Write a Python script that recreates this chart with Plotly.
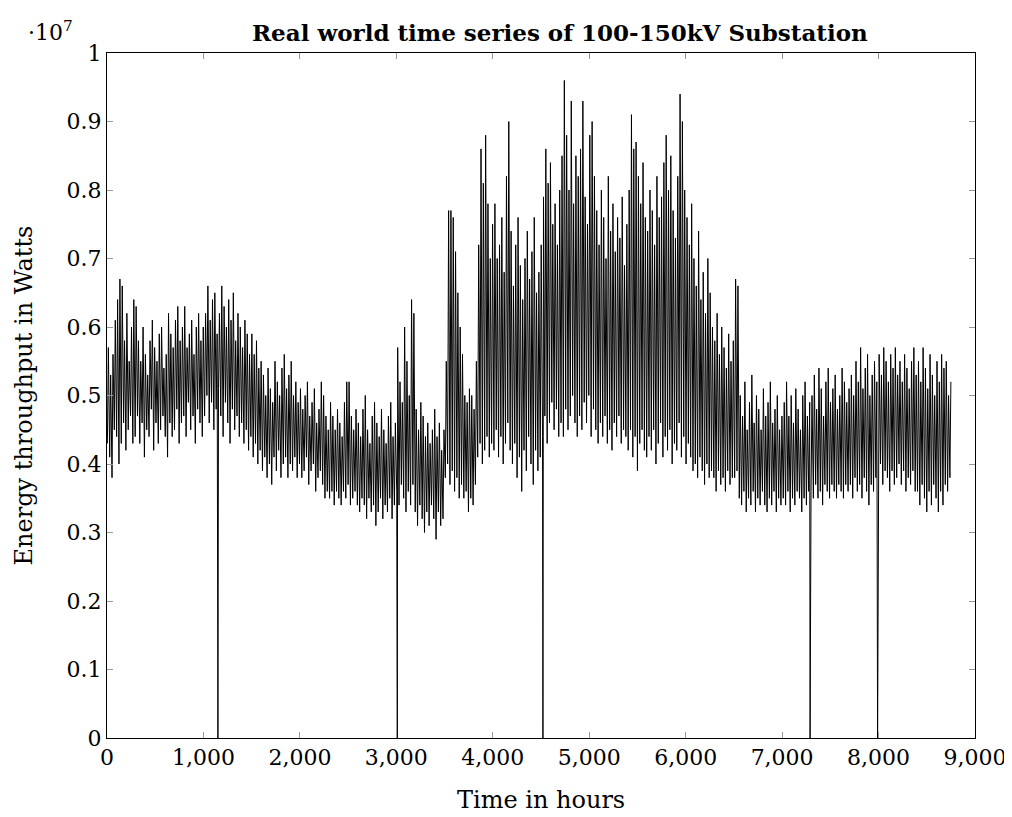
import plotly.graph_objects as go

# Daily readings of the substation energy throughput, in units of 10^7 W
# (one daily high and one nightly low per day, 365 days)
daily_peak = [
    0.57, 0.53, 0.56, 0.61,
    0.64, 0.67, 0.66, 0.58, 0.62, 0.55, 0.60, 0.64,
    0.63, 0.58, 0.55, 0.60, 0.56, 0.53, 0.58, 0.61, 0.57, 0.55, 0.59, 0.60, 0.54, 0.56, 0.62, 0.59, 0.57,
    0.61, 0.63, 0.58, 0.60, 0.63, 0.57, 0.59, 0.61, 0.56, 0.60, 0.62, 0.58, 0.60,
    0.62, 0.66, 0.61, 0.64, 0.65, 0.59, 0.62, 0.66, 0.63, 0.60, 0.64, 0.61, 0.65, 0.58, 0.62, 0.60, 0.57, 0.61, 0.59, 0.56,
    0.59, 0.56, 0.58, 0.54, 0.55,
    0.53, 0.50, 0.54, 0.51, 0.49, 0.55, 0.52, 0.50, 0.54, 0.56, 0.51, 0.53, 0.55, 0.50, 0.52, 0.49,
    0.51, 0.48, 0.50, 0.52, 0.47, 0.49, 0.51, 0.46, 0.48, 0.52, 0.50, 0.47, 0.45,
    0.49, 0.47, 0.45, 0.48, 0.46, 0.44, 0.49, 0.52, 0.52, 0.47, 0.45, 0.48,
    0.46, 0.44, 0.48, 0.50, 0.45, 0.43, 0.47, 0.49, 0.46, 0.44, 0.48, 0.45, 0.43, 0.47, 0.49, 0.44, 0.46,
    0.57, 0.52, 0.49, 0.60, 0.55, 0.50, 0.64, 0.62,
    0.48, 0.45, 0.49, 0.47, 0.44, 0.46, 0.43, 0.45, 0.48, 0.44, 0.46, 0.42, 0.45,
    0.55, 0.77, 0.77, 0.76,
    0.71, 0.65, 0.60, 0.56,
    0.50, 0.49, 0.51, 0.50, 0.48, 0.55,
    0.72, 0.86, 0.81, 0.88, 0.78, 0.70, 0.75,
    0.78, 0.70, 0.72, 0.76, 0.68, 0.82, 0.90, 0.74,
    0.66, 0.72, 0.76, 0.69, 0.64, 0.70, 0.74, 0.67, 0.71, 0.76, 0.65, 0.68, 0.72,
    0.79, 0.86, 0.81, 0.84, 0.75, 0.78, 0.72, 0.80,
    0.85, 0.96, 0.88, 0.80, 0.93, 0.78, 0.85, 0.82,
    0.86, 0.93, 0.79, 0.75, 0.88, 0.90, 0.82, 0.77,
    0.72, 0.80, 0.76, 0.70, 0.82, 0.74, 0.78, 0.71, 0.76, 0.73, 0.79, 0.69, 0.75,
    0.80, 0.91, 0.86, 0.87, 0.82, 0.78, 0.84, 0.76,
    0.74, 0.80, 0.77, 0.72, 0.82, 0.76, 0.79, 0.84, 0.88, 0.80, 0.85, 0.77, 0.73,
    0.82, 0.94, 0.90, 0.80, 0.76, 0.72, 0.78, 0.70,
    0.66, 0.74, 0.64, 0.68, 0.62, 0.70, 0.65, 0.60,
    0.58, 0.62, 0.56, 0.60, 0.57, 0.54, 0.59, 0.55, 0.58,
    0.67, 0.66,
    0.50, 0.47, 0.52, 0.45, 0.49, 0.53, 0.46, 0.50, 0.48, 0.45, 0.51, 0.47, 0.49, 0.52, 0.46, 0.48, 0.50, 0.45, 0.47,
    0.49, 0.52, 0.47, 0.50, 0.46, 0.51, 0.48, 0.45, 0.50, 0.52, 0.47, 0.49,
    0.50, 0.53, 0.48, 0.54, 0.51, 0.47, 0.52, 0.54, 0.49, 0.51, 0.53, 0.48, 0.50, 0.54, 0.52, 0.49, 0.51,
    0.53, 0.50, 0.55, 0.52, 0.57, 0.51, 0.54, 0.56, 0.50, 0.53, 0.55, 0.52,
    0.56, 0.53, 0.57, 0.55, 0.52, 0.56, 0.54, 0.57, 0.53, 0.55, 0.52, 0.56, 0.54, 0.51, 0.55, 0.57, 0.53,
    0.55, 0.52, 0.57, 0.54, 0.51, 0.56, 0.53, 0.50, 0.55, 0.52, 0.56, 0.54, 0.55, 0.50, 0.52,
]

daily_low = [
    0.43, 0.41, 0.38, 0.45,
    0.44, 0.40, 0.43, 0.46, 0.42, 0.45, 0.47, 0.43,
    0.44, 0.47, 0.43, 0.46, 0.41, 0.45, 0.44, 0.48, 0.42, 0.46, 0.43, 0.45, 0.47, 0.44, 0.41, 0.46, 0.44,
    0.45, 0.48, 0.43, 0.46, 0.47, 0.44, 0.49, 0.45, 0.47, 0.43, 0.48, 0.46, 0.44,
    0.47, 0.50, 0.46, 0.49, 0.45, 0.48, 0.51, 0.47, 0.44, 0.49, 0.46, 0.43, 0.48, 0.45, 0.47, 0.44, 0.46, 0.43, 0.45, 0.42,
    0.44, 0.41, 0.43, 0.40, 0.42,
    0.39, 0.41, 0.38, 0.40, 0.37, 0.41, 0.39, 0.42, 0.38, 0.40, 0.41, 0.38, 0.40, 0.39, 0.41, 0.38,
    0.40, 0.38, 0.39, 0.41, 0.37, 0.39, 0.40, 0.36, 0.38, 0.39, 0.37, 0.35, 0.36,
    0.35, 0.36, 0.34, 0.36, 0.35, 0.34, 0.36, 0.35, 0.37, 0.34, 0.35, 0.36,
    0.34, 0.33, 0.35, 0.34, 0.32, 0.35, 0.33, 0.34, 0.31, 0.33, 0.35, 0.32, 0.34, 0.33, 0.35, 0.32, 0.34,
    0.36, 0.34, 0.37, 0.35, 0.33, 0.36, 0.34, 0.37,
    0.33, 0.31, 0.34, 0.32, 0.30, 0.33, 0.31, 0.34, 0.32, 0.29, 0.33, 0.31, 0.32,
    0.38, 0.40, 0.37, 0.39,
    0.36, 0.38, 0.35, 0.37,
    0.35, 0.36, 0.33, 0.35, 0.34, 0.37,
    0.41, 0.43, 0.40, 0.42, 0.44, 0.41, 0.43,
    0.42, 0.45, 0.41, 0.44, 0.40, 0.43, 0.46, 0.42,
    0.40, 0.43, 0.38, 0.41, 0.36, 0.42, 0.39, 0.44, 0.40, 0.37, 0.42, 0.39, 0.41,
    0.44, 0.47, 0.43, 0.46, 0.49, 0.45, 0.48, 0.44,
    0.46, 0.44, 0.48, 0.45, 0.47, 0.50, 0.46, 0.44,
    0.47, 0.45, 0.49, 0.46, 0.50, 0.44, 0.48, 0.45,
    0.43, 0.46, 0.44, 0.47, 0.43, 0.45, 0.42, 0.46, 0.44, 0.47, 0.43, 0.45, 0.44,
    0.42, 0.45, 0.41, 0.44, 0.39, 0.43, 0.45, 0.42,
    0.41, 0.44, 0.42, 0.45, 0.40, 0.43, 0.46, 0.41, 0.44, 0.42, 0.45, 0.40, 0.43,
    0.42, 0.46, 0.41, 0.44, 0.40, 0.43, 0.41, 0.39,
    0.40, 0.38, 0.41, 0.39, 0.37, 0.40, 0.38, 0.39,
    0.38, 0.36, 0.39, 0.37, 0.38, 0.36, 0.39, 0.37, 0.38,
    0.38, 0.39,
    0.35, 0.34, 0.36, 0.33, 0.35, 0.34, 0.36, 0.33, 0.35, 0.34, 0.36, 0.34, 0.33, 0.35, 0.34, 0.36, 0.33, 0.35, 0.34,
    0.35, 0.34, 0.36, 0.33, 0.35, 0.34, 0.36, 0.35, 0.33, 0.35, 0.34, 0.36,
    0.36, 0.35, 0.37, 0.35, 0.36, 0.34, 0.37, 0.36, 0.35, 0.37, 0.36, 0.35, 0.37, 0.36, 0.35, 0.37, 0.36,
    0.37, 0.35, 0.38, 0.36, 0.37, 0.35, 0.38, 0.36, 0.34, 0.37, 0.36, 0.38,
    0.38, 0.40, 0.37, 0.39, 0.38, 0.36, 0.39, 0.37, 0.38, 0.40, 0.37, 0.39, 0.36, 0.38, 0.37, 0.39, 0.36,
    0.36, 0.34, 0.37, 0.35, 0.33, 0.36, 0.34, 0.37, 0.35, 0.33, 0.36, 0.34, 0.37, 0.36, 0.38,
]

# Hours at which the measurement dropped out (reading of zero)
outage_hours = [1150, 3010, 4520, 7290, 7990]
outage_values = [0.0, 0.0, 0.0, 0.0, 0.0]

low_hour_of_day = 4
peak_hour_of_day = 14

x_tick_vals = [0, 1000, 2000, 3000, 4000, 5000, 6000, 7000, 8000, 9000]
x_tick_text = ["0", "1,000", "2,000", "3,000", "4,000", "5,000", "6,000", "7,000", "8,000", "9,000"]
y_tick_vals = [0, 0.1, 0.2, 0.3, 0.4, 0.5, 0.6, 0.7, 0.8, 0.9, 1]
y_tick_text = ["0", "0.1", "0.2", "0.3", "0.4", "0.5", "0.6", "0.7", "0.8", "0.9", "1"]

# Assemble the time series (hour, value)
points = []
for d, (lo, hi) in enumerate(zip(daily_low, daily_peak)):
    points.append((24 * d + low_hour_of_day, lo))
    points.append((24 * d + peak_hour_of_day, hi))
for h, v in zip(outage_hours, outage_values):
    points.append((h, v))
points.sort(key=lambda p: p[0])
hours = [p[0] for p in points]
values = [p[1] for p in points]

FONT = "DejaVu Serif"
FS = 22

fig = go.Figure()
fig.add_trace(go.Scatter(
    x=hours, y=values, mode="lines",
    line=dict(color="black", width=1),
    showlegend=False, hoverinfo="skip",
))

axis_common = dict(
    showline=True, linecolor="black", linewidth=1, mirror="ticks",
    ticks="inside", ticklen=6, tickcolor="#999999", tickwidth=1,
    showgrid=False, zeroline=False, automargin=False,
    tickfont=dict(family=FONT, size=FS, color="black"),
)

fig.update_layout(
    width=1012, height=817,
    margin=dict(l=99, r=45, t=45, b=87, autoexpand=False),
    paper_bgcolor="white", plot_bgcolor="white",
    font=dict(family=FONT, color="black"),
    xaxis=dict(range=[0, 9000], tickmode="array",
               tickvals=x_tick_vals, ticktext=x_tick_text, **axis_common),
    yaxis=dict(range=[0, 1], tickmode="array",
               tickvals=y_tick_vals, ticktext=y_tick_text, **axis_common),
    annotations=[
        dict(text="<b>Real world time series of 100-150kV Substation</b>",
             xref="paper", yref="paper", x=0.5, y=1.0, xshift=19, yshift=21,
             xanchor="center", yanchor="middle", showarrow=False,
             font=dict(family=FONT, size=23, color="black")),
        dict(text="·10<sup>7</sup>",
             xref="paper", yref="paper", x=0.0, y=1.0, xshift=-57, yshift=22,
             xanchor="center", yanchor="middle", showarrow=False,
             font=dict(family=FONT, size=FS, color="black")),
        dict(text="Time in hours",
             xref="paper", yref="paper", x=0.5, y=0.0, xshift=0, yshift=-62,
             xanchor="center", yanchor="middle", showarrow=False,
             font=dict(family=FONT, size=24, color="black")),
        dict(text="Energy throughput in Watts", textangle=-90,
             xref="paper", yref="paper", x=0.0, y=0.5, xshift=-84, yshift=0,
             xanchor="center", yanchor="middle", showarrow=False,
             font=dict(family=FONT, size=24, color="black")),
    ],
)

fig.write_html("out.html")
